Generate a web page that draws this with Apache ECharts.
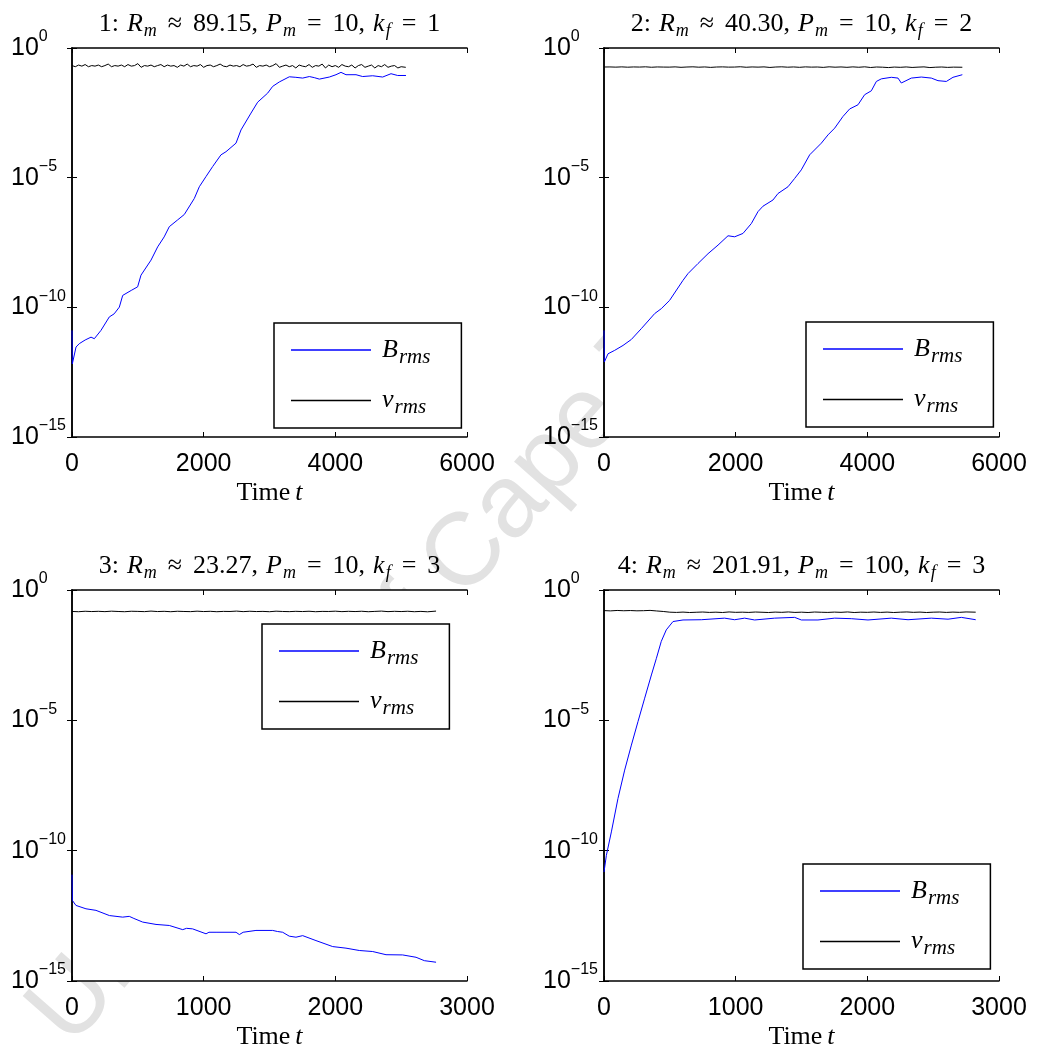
<!DOCTYPE html>
<html>
<head>
<meta charset="utf-8">
<script src="https://cdn.jsdelivr.net/npm/echarts@6/dist/echarts.min.js"></script>
<style>html,body{margin:0;padding:0;background:#fff}#c{width:1045px;height:1055px}</style>
</head>
<body>
<div id="c"></div>
<script>
// ---------- DATA ----------
const titles = [
  ['1', '89.15', '10', '1'],
  ['2', '40.30', '10', '2'],
  ['3', '23.27', '10', '3'],
  ['4', '201.91', '100', '3']
];
const xMax = [6000, 6000, 3000, 3000];
const xInterval = [2000, 2000, 1000, 1000];

const B1 = [[0,1.29e-11],[5,6.6e-13],[61,2.95e-12],[111,3.98e-12],[200,5.5e-12],[289,7.08e-12],[339,6.17e-12],[440,1.29e-11],[567,4.27e-11],[640,5.6e-11],[719,1.02e-10],[770,2.88e-10],[900,4.5e-10],[997,6.17e-10],[1048,1.74e-9],[1200,6.61e-9],[1301,2.14e-8],[1400,5.2e-8],[1478,1.29e-7],[1600,2.3e-7],[1706,3.80e-7],[1858,1.58e-6],[1934,4.47e-6],[2035,1.10e-5],[2137,2.69e-5],[2263,7.59e-5],[2339,1.0e-4],[2491,2.14e-4],[2567,6.92e-4],[2719,3.09e-3],[2820,8.13e-3],[2972,1.82e-2],[3048,3.31e-2],[3149,4.90e-2],[3301,7.76e-2],[3400,7.4e-2],[3504,6.92e-2],[3605,7.94e-2],[3680,7.2e-2],[3757,6.31e-2],[3909,7.59e-2],[4010,9.33e-2],[4086,0.115],[4162,9.33e-2],[4314,9.33e-2],[4415,7.94e-2],[4567,8.51e-2],[4719,7.59e-2],[4846,0.102],[4947,8.71e-2],[5073,8.71e-2]];
const V1 = [[0,0.21],[50,0.19],[100,0.22],[150,0.20],[200,0.23],[250,0.19],[300,0.21],[350,0.20],[400,0.22],[450,0.19],
[500,0.21],[550,0.24],[600,0.19],[650,0.21],[700,0.20],[750,0.22],[800,0.19],[850,0.23],[900,0.20],[950,0.21],
[1000,0.25],[1050,0.18],[1100,0.21],[1150,0.20],[1200,0.22],[1250,0.19],[1300,0.21],[1350,0.23],[1400,0.19],[1450,0.22],
[1500,0.20],[1550,0.21],[1600,0.18],[1650,0.22],[1700,0.20],[1750,0.24],[1800,0.19],[1850,0.21],[1900,0.20],[1950,0.23],
[2000,0.18],[2050,0.21],[2100,0.22],[2150,0.19],[2200,0.21],[2250,0.24],[2300,0.20],[2350,0.19],[2400,0.22],[2450,0.20],
[2500,0.21],[2550,0.19],[2600,0.23],[2650,0.20],[2700,0.21],[2750,0.24],[2800,0.18],[2850,0.21],[2900,0.20],[2950,0.22],
[3000,0.19],[3050,0.21],[3100,0.25],[3150,0.18],[3200,0.20],[3250,0.22],[3300,0.19],[3350,0.21],[3400,0.17],[3450,0.22],
[3500,0.20],[3550,0.19],[3600,0.23],[3650,0.18],[3700,0.21],[3750,0.20],[3800,0.24],[3850,0.17],[3900,0.22],[3950,0.19],
[4000,0.21],[4050,0.18],[4100,0.23],[4150,0.20],[4200,0.19],[4250,0.22],[4300,0.17],[4350,0.21],[4400,0.23],[4450,0.18],
[4500,0.20],[4550,0.22],[4600,0.17],[4650,0.21],[4700,0.19],[4750,0.23],[4800,0.18],[4850,0.20],[4900,0.21],[4950,0.17],
[5000,0.19],[5070,0.18]];

const B2 = [[0,1.29e-11],[5,7.76e-13],[61,1.62e-12],[162,2.19e-12],[289,3.39e-12],[415,5.75e-12],[567,1.51e-11],[770,5.75e-11],[871,8.91e-11],[997,1.86e-10],[1200,1.10e-9],[1276,2.0e-9],[1428,4.90e-9],[1580,1.17e-8],[1732,2.51e-8],[1884,5.75e-8],[1985,5.25e-8],[2111,7.08e-8],[2238,1.70e-7],[2339,4.90e-7],[2415,7.94e-7],[2567,1.38e-6],[2643,2.45e-6],[2795,4.47e-6],[2896,9.33e-6],[2997,2.0e-5],[3124,7.59e-5],[3301,2.14e-4],[3403,4.47e-4],[3504,8.13e-4],[3630,2.29e-3],[3732,4.47e-3],[3858,6.46e-3],[3959,1.58e-2],[4061,2.24e-2],[4137,5.13e-2],[4213,6.46e-2],[4365,7.41e-2],[4466,6.92e-2],[4516,4.47e-2],[4668,6.92e-2],[4820,7.59e-2],[4972,6.92e-2],[5073,5.50e-2],[5200,5.13e-2],[5301,7.41e-2],[5443,9.33e-2]];
const V2 = [[0,0.185],[90,0.186],[180,0.183],[270,0.187],[360,0.182],[450,0.186],[540,0.184],[630,0.188],[720,0.181],[810,0.186],[900,0.184],[990,0.183],[1080,0.187],[1170,0.180],[1260,0.185],[1350,0.188],[1440,0.182],[1530,0.186],[1620,0.179],[1710,0.185],[1800,0.187],[1890,0.183],[1980,0.184],[2070,0.189],[2160,0.181],[2250,0.186],[2340,0.183],[2430,0.187],[2520,0.178],[2610,0.185],[2700,0.188],[2790,0.182],[2880,0.186],[2970,0.180],[3060,0.187],[3150,0.183],[3240,0.185],[3330,0.179],[3420,0.188],[3510,0.182],[3600,0.186],[3690,0.180],[3780,0.187],[3870,0.181],[3960,0.188],[4050,0.177],[4140,0.185],[4230,0.182],[4320,0.176],[4410,0.184],[4500,0.180],[4590,0.186],[4680,0.178],[4770,0.183],[4860,0.187],[4950,0.176],[5040,0.182],[5130,0.185],[5220,0.179],[5310,0.183],[5443,0.181]];

const B3 = [[0,1.20e-11],[3,1.23e-12],[30,7.94e-13],[106,5.89e-13],[182,5.13e-13],[284,3.24e-13],[385,2.82e-13],[435,3.02e-13],[470,2.51e-13],[537,1.82e-13],[638,1.48e-13],[739,1.35e-13],[841,9.33e-14],[870,1.05e-13],[916,1.0e-13],[1018,6.46e-14],[1040,7.41e-14],[1094,7.41e-14],[1246,7.41e-14],[1271,6.03e-14],[1300,7.41e-14],[1397,8.71e-14],[1524,8.71e-14],[1560,7.94e-14],[1600,7.41e-14],[1650,5.25e-14],[1701,4.79e-14],[1752,5.50e-14],[1853,3.55e-14],[1980,2.09e-14],[2081,1.82e-14],[2182,1.48e-14],[2284,1.35e-14],[2385,1.02e-14],[2511,1.0e-14],[2613,8.13e-15],[2676,6.03e-15],[2765,5.25e-15]];
const V3 = [[0,0.150],[50,0.147],[100,0.153],[150,0.149],[200,0.152],[250,0.148],[300,0.154],[350,0.150],[400,0.147],[450,0.153],[500,0.151],[550,0.148],[600,0.155],[650,0.149],[700,0.152],[750,0.147],[800,0.153],[850,0.150],[900,0.148],[950,0.154],[1000,0.149],[1050,0.152],[1100,0.147],[1150,0.151],[1200,0.150],[1250,0.155],[1300,0.148],[1350,0.153],[1400,0.149],[1450,0.151],[1500,0.147],[1550,0.154],[1600,0.150],[1650,0.148],[1700,0.152],[1750,0.149],[1800,0.153],[1850,0.147],[1900,0.151],[1950,0.150],[2000,0.154],[2050,0.148],[2100,0.152],[2150,0.149],[2200,0.153],[2250,0.147],[2300,0.151],[2350,0.155],[2400,0.148],[2450,0.152],[2500,0.149],[2550,0.153],[2600,0.147],[2650,0.151],[2700,0.146],[2765,0.155]];

const B4 = [[0,1.51e-11],[18,6.61e-11],[56,5.25e-10],[106,1.0e-8],[157,1.23e-7],[208,1.12e-6],[258,8.91e-6],[309,7.08e-5],[360,5.50e-4],[398,2.40e-3],[435,1.07e-2],[473,2.95e-2],[524,6.17e-2],[600,7.08e-2],[739,7.24e-2],[916,8.32e-2],[992,7.24e-2],[1068,8.32e-2],[1144,7.08e-2],[1296,8.32e-2],[1448,8.91e-2],[1499,7.08e-2],[1625,7.08e-2],[1752,8.32e-2],[1878,7.94e-2],[2005,7.08e-2],[2182,8.32e-2],[2309,7.24e-2],[2486,8.32e-2],[2613,7.59e-2],[2714,8.91e-2],[2823,7.24e-2]];
const V4 = [[0,0.162],[50,0.158],[100,0.164],[150,0.160],[200,0.163],[250,0.159],[300,0.161],[350,0.165],[400,0.157],[450,0.150],[500,0.141],[550,0.138],[600,0.142],[650,0.137],[700,0.140],[750,0.143],[800,0.138],[850,0.141],[900,0.137],[950,0.144],[1000,0.139],[1050,0.141],[1100,0.138],[1150,0.143],[1200,0.140],[1250,0.137],[1300,0.142],[1350,0.139],[1400,0.144],[1450,0.138],[1500,0.141],[1550,0.137],[1600,0.143],[1650,0.140],[1700,0.138],[1750,0.142],[1800,0.139],[1850,0.144],[1900,0.137],[1950,0.141],[2000,0.139],[2050,0.143],[2100,0.138],[2150,0.142],[2200,0.137],[2250,0.141],[2300,0.144],[2350,0.139],[2400,0.142],[2450,0.137],[2500,0.141],[2550,0.143],[2600,0.138],[2650,0.142],[2700,0.139],[2750,0.144],[2823,0.141]];

const Bdata = [B1, B2, B3, B4];
const Vdata = [V1, V2, V3, V4];

// ---------- LAYOUT ----------
const grids = [
  {left: 72, top: 48, width: 395, height: 389},
  {left: 604, top: 48, width: 395, height: 389},
  {left: 72, top: 590, width: 395, height: 391},
  {left: 604, top: 590, width: 395, height: 391}
];
const legendPos = [
  {left: 274, top: 323},
  {left: 806, top: 322},
  {left: 262, top: 624},
  {left: 803, top: 864}
];
const SANS = 'Liberation Sans';
const SERIF = 'Liberation Serif';

const mathRich = {
  n: {fontFamily: SERIF, fontSize: 26, color: '#000'},
  c: {fontFamily: SERIF, fontSize: 26, color: '#000', padding: [0, 8, 0, 0]},
  i: {fontFamily: SERIF, fontStyle: 'italic', fontSize: 26, color: '#000'},
  s: {fontFamily: SERIF, fontStyle: 'italic', fontSize: 18, color: '#000', padding: [14, 0, 0, 1]},
  o: {fontFamily: SERIF, fontSize: 26, color: '#000', padding: [0, 11, 0, 11]}
};
const nameRich = {
  n: {fontFamily: SERIF, fontSize: 26, color: '#000'},
  i: {fontFamily: SERIF, fontStyle: 'italic', fontSize: 26, color: '#000', padding: [0, 0, 0, 5]}
};
const legendRich = {
  pad: {width: 6},
  i: {fontFamily: SERIF, fontStyle: 'italic', fontSize: 26, color: '#000'},
  s: {fontFamily: SERIF, fontStyle: 'italic', fontSize: 21, color: '#000', padding: [14, 0, 0, 1]}
};
const tickRich = {
  b: {fontFamily: SANS, fontSize: 25, color: '#000'},
  s: {fontFamily: SANS, fontSize: 16, color: '#000', padding: [0, 0, 22, 0]}
};

function yLabel(v) {
  const e = Math.round(Math.log10(v));
  const s = e < 0 ? '\u2212' + (-e) : '' + e;
  return '{b|10}{s|' + s + '}';
}
function xLabel(v) { return String(v); }

const option = {
  backgroundColor: '#fff',
  animation: false,
  graphic: [{
    type: 'text', x: 88, y: 1064, rotation: 48.7 * Math.PI / 180, z: -100,
    style: {text: 'University of Cape Town', font: '103px "Liberation Sans"', fill: '#e2e2e2', align: 'left', verticalAlign: 'bottom'}
  }],
  title: [], grid: [], xAxis: [], yAxis: [], legend: [], series: []
};

for (let k = 0; k < 4; k++) {
  const g = grids[k];
  const t = titles[k];
  option.grid.push(Object.assign({show: true, backgroundColor: '#fff', borderWidth: 0, containLabel: false}, g));
  option.title.push({
    text: '{c|' + t[0] + ':}{i|R}{s|m}{o|\u2248}{c|' + t[1] + ',}{i|P}{s|m}{o|=}{c|' + t[2] + ',}{i|k}{s|f}{o|=}{n|' + t[3] + '}',
    left: g.left + g.width / 2, top: g.top - 40, textAlign: 'center', padding: 0,
    textStyle: {fontFamily: SERIF, fontSize: 26, fontWeight: 'normal', color: '#000', rich: mathRich}
  });
  const axLine = {show: true, lineStyle: {color: '#000', width: 1.5}};
  const tick = {show: true, inside: true, length: 5, lineStyle: {color: '#000', width: 1}};
  option.xAxis.push({
    type: 'value', gridIndex: k, min: 0, max: xMax[k], interval: xInterval[k], position: 'bottom',
    axisLine: axLine, axisTick: tick, splitLine: {show: false},
    axisLabel: {formatter: xLabel, fontFamily: SANS, fontSize: 25, color: '#000', margin: 15},
    name: '{n|Time}{i|t}', nameLocation: 'middle', nameGap: 43,
    nameTextStyle: {fontFamily: SERIF, fontSize: 26, color: '#000', rich: nameRich}
  });
  option.xAxis.push({
    type: 'value', gridIndex: k, min: 0, max: xMax[k], interval: xInterval[k], position: 'top',
    axisLine: axLine, axisTick: tick, splitLine: {show: false}, axisLabel: {show: false}
  });
  option.yAxis.push({
    type: 'log', logBase: 10, gridIndex: k, min: 1e-15, max: 1, interval: 5, position: 'left',
    axisLine: axLine, axisTick: tick, splitLine: {show: false}, minorTick: {show: false},
    axisLabel: {formatter: yLabel, rich: tickRich, align: 'left', margin: 61, color: '#000'}
  });
  option.yAxis.push({
    type: 'log', logBase: 10, gridIndex: k, min: 1e-15, max: 1, interval: 5, position: 'right',
    axisLine: axLine, axisTick: tick, splitLine: {show: false}, axisLabel: {show: false}
  });
  option.legend.push({
    data: ['Brms', 'vrms'], orient: 'vertical',
    left: legendPos[k].left, top: legendPos[k].top,
    icon: 'rect', itemWidth: 80, itemHeight: 1.3, itemGap: 20,
    padding: [14, 31, 10, 17],
    borderColor: '#000', borderWidth: 1.5, backgroundColor: '#fff', selectedMode: false,
    formatter: function (name) { return '{pad|}{i|' + name.charAt(0) + '}{s|rms}'; },
    textStyle: {rich: legendRich, color: '#000'}
  });
  option.series.push({
    name: 'Brms', type: 'line', xAxisIndex: 2 * k, yAxisIndex: 2 * k, data: Bdata[k],
    showSymbol: false, symbol: 'none', color: '#0000ff', lineStyle: {color: '#0000ff', width: 1}, z: 3
  });
  option.series.push({
    name: 'vrms', type: 'line', xAxisIndex: 2 * k, yAxisIndex: 2 * k, data: Vdata[k],
    showSymbol: false, symbol: 'none', color: '#000000', lineStyle: {color: '#000000', width: 1}, z: 2
  });
}

const chart = echarts.init(document.getElementById('c'), null, {renderer: 'canvas'});
chart.setOption(option);
</script>
</body>
</html>
